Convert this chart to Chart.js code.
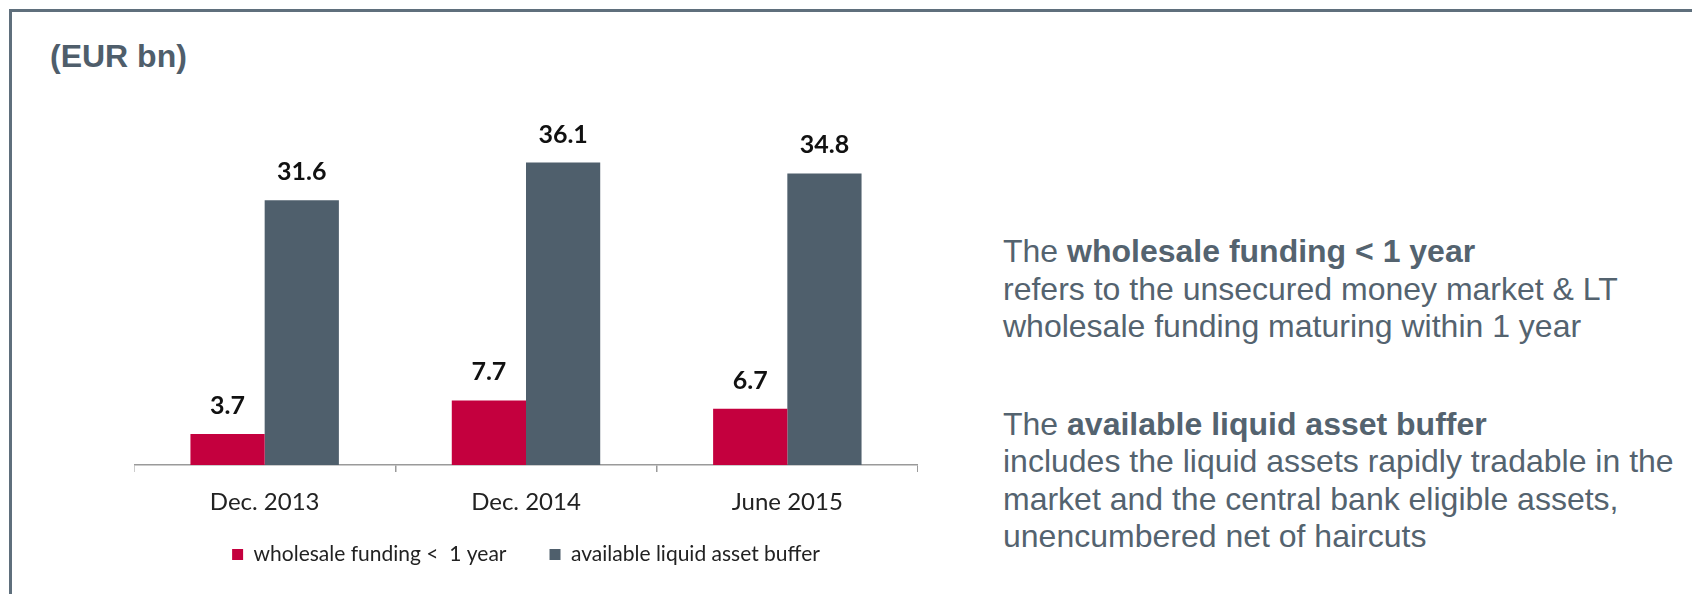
<!DOCTYPE html>
<html>
<head>
<meta charset="utf-8">
<script src="https://cdn.jsdelivr.net/npm/chart.js"></script>
<style>
  html, body { margin: 0; padding: 0; background: #fff; }
  body { width: 1692px; height: 594px; position: relative; overflow: hidden; }
  .frame { position: absolute; left: 9px; top: 9px; width: 1720px; height: 620px;
           border-left: 3px solid #5f6f7c; border-top: 3px solid #5f6f7c; }
  .unit { position: absolute; left: 50px; top: 40px; font: bold 32px/32px "Liberation Sans", Arial, sans-serif; color: #4f5e6b; }
  .notes { position: absolute; left: 1003px; top: 233px; width: 685px;
           font: 32px/37.5px "Liberation Sans", Arial, sans-serif; color: #54636f; }
  .notes p { margin: 0 0 60px 0; white-space: nowrap; }
  .chart-box { position: absolute; left: 134px; top: 80px; width: 784px; height: 514px; }
</style>
</head>
<body>
<div class="frame"></div>
<div class="unit">(EUR bn)</div>

<div class="chart-box"><canvas id="chart-area"></canvas></div>

<div class="notes">
  <p>The <b>wholesale funding &lt; 1 year</b><br>refers to the unsecured money market &amp; LT<br>wholesale funding maturing within 1 year</p>
  <p>The <b>available liquid asset buffer</b><br>includes the liquid assets rapidly tradable in the<br>market and the central bank eligible assets,<br>unencumbered net of haircuts</p>
</div>

<script>
// данные графика
var categories = ['Dec. 2013', 'Dec. 2014', 'June 2015'];
var seriesNames = ['wholesale funding <  1 year', 'available liquid asset buffer'];
var wholesaleFunding = [3.7, 7.7, 6.7];
var liquidBuffer = [31.6, 36.1, 34.8];
var seriesColors = ['#c4003e', '#4f5f6c'];

// подписи значений над столбиками
var valueLabels = {
    id: 'valueLabels',
    afterDatasetsDraw: function (chart) {
        var ctx = chart.ctx;
        ctx.save();
        ctx.font = 'bold 25px Lato, sans-serif';
        ctx.fillStyle = '#111111';
        ctx.textAlign = 'center';
        ctx.textBaseline = 'alphabetic';
        chart.data.datasets.forEach(function (ds, i) {
            chart.getDatasetMeta(i).data.forEach(function (bar, j) {
                ctx.fillText(ds.data[j].toFixed(1), bar.x, bar.y - 20);
            });
        });
        ctx.restore();
    }
};

// легенда: большой отступ между элементами, но поднимаем её ближе к оси
var legendShift = {
    id: 'legendShift',
    afterLayout: function (chart) {
        if (chart.legend) {
            chart.legend.top -= 14;
            chart.legend.bottom -= 14;
        }
    }
};

var config = {
    type: 'bar',
    data: {
        labels: categories,
        datasets: [{
            label: seriesNames[0],
            data: wholesaleFunding,
            backgroundColor: seriesColors[0]
        }, {
            label: seriesNames[1],
            data: liquidBuffer,
            backgroundColor: seriesColors[1]
        }]
    },
    options: {
        responsive: true,
        maintainAspectRatio: false,
        devicePixelRatio: 1,
        animation: false,
        layout: { padding: { top: 8, bottom: 5, left: 0, right: 0 } },
        datasets: { bar: { categoryPercentage: 0.568, barPercentage: 1.0 } },
        scales: {
            x: {
                grid: { drawOnChartArea: false, drawTicks: true, tickLength: 7, color: '#9a9a9a', lineWidth: 1.5 },
                border: { display: true, color: '#9a9a9a', width: 1.5 },
                ticks: { color: '#222222', font: { family: 'Lato, sans-serif', size: 24 }, padding: 16 },
                afterFit: function (scale) { scale.height = 50; }
            },
            y: {
                display: false,
                min: 0,
                max: 45
            }
        },
        plugins: {
            legend: {
                position: 'bottom',
                labels: {
                    boxWidth: 11,
                    boxHeight: 11,
                    padding: 43,
                    color: '#222222',
                    font: { family: 'Lato, sans-serif', size: 21 }
                }
            },
            tooltip: { enabled: false }
        }
    },
    plugins: [valueLabels, legendShift]
};

var ctx = document.getElementById('chart-area').getContext('2d');
window.myBar = new Chart(ctx, config);
</script>
</body>
</html>
